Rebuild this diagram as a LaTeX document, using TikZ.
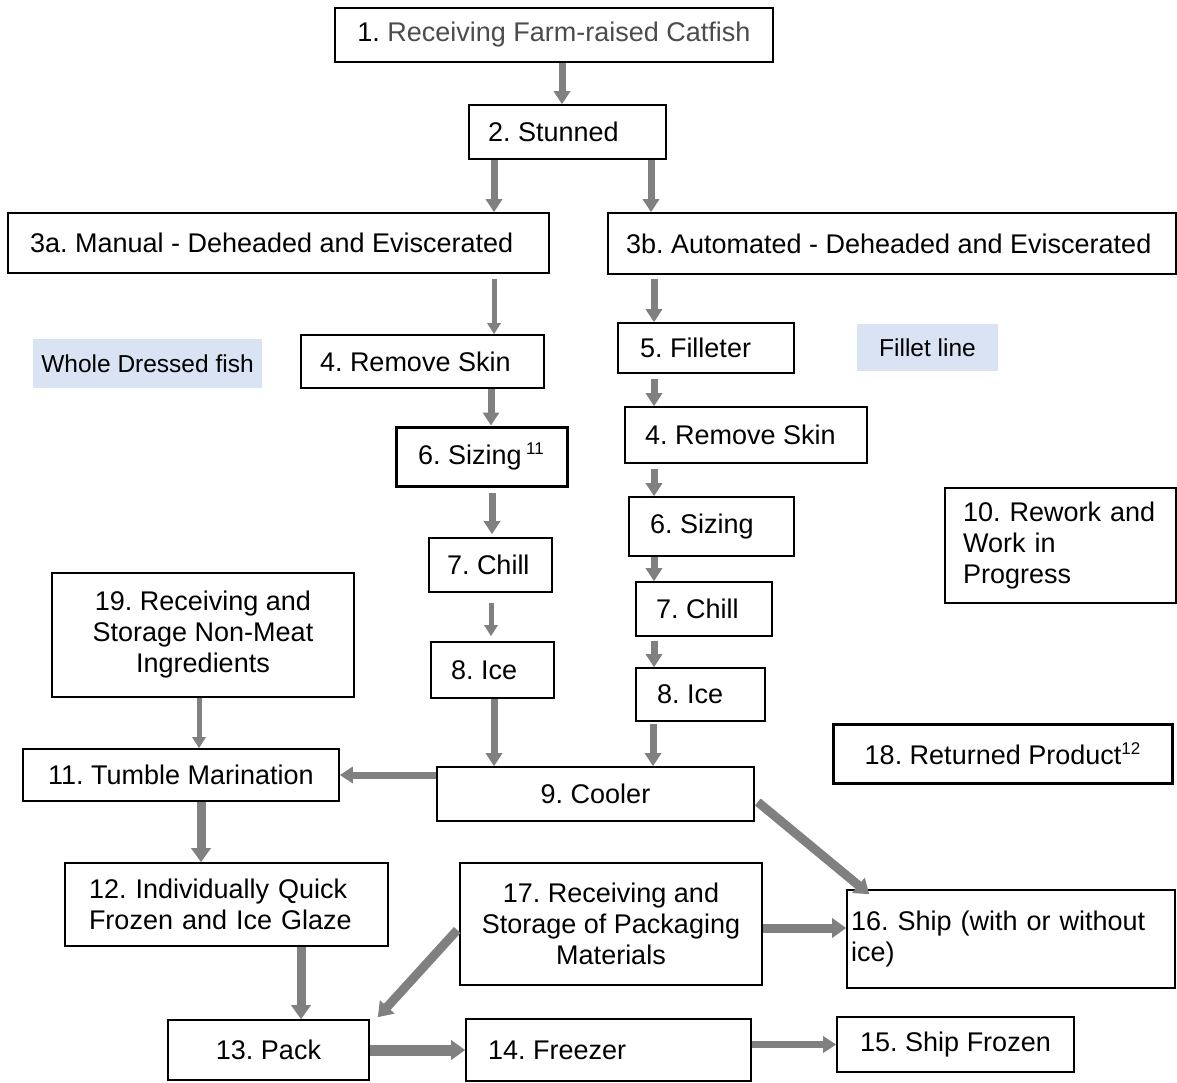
\documentclass[tikz,border=0pt]{standalone}
\usepackage{fontspec}
\setmainfont{Liberation Sans}
\usetikzlibrary{arrows.meta}
\definecolor{arrowgray}{HTML}{808080}
\definecolor{notefill}{HTML}{DAE3F3}
\newcommand{\stepfont}{\fontsize{27}{31}\selectfont}
\newcommand{\notefont}{\fontsize{24.5}{28}\selectfont}
\newcommand{\lefttext}[2]{\makebox[#1][l]{#2}}
\newcommand{\supnum}[1]{\raisebox{10pt}{\fontsize{17}{17}\selectfont #1}}
\frenchspacing
\tikzset{
  box/.style={draw, line width=1.6pt, fill=white, inner ysep=0pt, font=\stepfont},
  boldbox/.style={box, line width=3pt},
  note/.style={fill=notefill, inner sep=0pt, font=\notefont},
  flowthin/.style={draw=arrowgray, line width=5pt, -{Triangle[length=11pt,width=13pt]}},
  flow/.style={draw=arrowgray, line width=7pt, -{Triangle[length=13pt,width=16pt]}},
  flowbold/.style={draw=arrowgray, line width=9pt, -{Triangle[length=14pt,width=19pt]}}
}
\begin{document}
\begin{tikzpicture}[x=1pt,y=-1pt]
    \useasboundingbox (0,0) rectangle (1177,1082);
    % main line
    \node[box, minimum width=438pt, minimum height=54pt] (n1) at (554,35) {1. \textcolor{black!70}{Receiving Farm-raised Catfish}};
    \node[box, inner xsep=19pt, minimum height=54pt] (n2) at (567.5,132) {\lefttext{159pt}{2. Stunned}};
    \node[box, inner xsep=22pt, minimum height=60pt] (n3a) at (278.5,243) {\lefttext{497pt}{3a. Manual - Deheaded and Eviscerated}};
    \node[box, inner xsep=18pt, minimum height=61pt] (n3b) at (892,243.5) {\lefttext{532pt}{3b. Automated - Deheaded and Eviscerated}};
    % whole dressed fish
    \node[note, minimum width=229pt, minimum height=49pt] (wdf) at (147.5,363.5) {Whole Dressed fish};
    \node[box, inner xsep=19pt, minimum height=53pt] (n4l) at (422.5,361.5) {\lefttext{205pt}{4. Remove Skin}};
    \node[boldbox, inner xsep=22pt, minimum height=59pt] (n6l) at (481.5,456.5) {\lefttext{127pt}{6. Sizing\,\supnum{11}}};
    \node[box, inner xsep=18pt, minimum height=54pt] (n7l) at (490.5,565) {\lefttext{87pt}{7. Chill}};
    \node[box, inner xsep=20pt, minimum height=56pt] (n8l) at (492.5,670) {\lefttext{83pt}{8. Ice}};
    % fillet line
    \node[note, minimum width=141pt, minimum height=47pt] (fl) at (927.5,347.5) {Fillet line};
    \node[box, inner xsep=22pt, minimum height=50pt] (n5) at (706,348) {\lefttext{132pt}{5. Filleter}};
    \node[box, inner xsep=20pt, minimum height=56pt] (n4r) at (746,435) {\lefttext{202pt}{4. Remove Skin}};
    \node[box, inner xsep=21pt, minimum height=59pt] (n6r) at (711.5,526.5) {\lefttext{123pt}{6. Sizing}};
    \node[box, inner xsep=20pt, minimum height=54pt] (n7r) at (704,609) {\lefttext{96pt}{7. Chill}};
    \node[box, inner xsep=21pt, minimum height=53pt] (n8r) at (700.5,694.5) {\lefttext{87pt}{8. Ice}};
    % side steps
    \node[box, inner xsep=18pt, text width=195pt, align=left, minimum height=115pt] (n10) at (1060.5,545.5) {10. Rework and\\Work in\\Progress};
    \node[boldbox, minimum width=339pt, minimum height=59pt] (n18) at (1002.5,753.5) {18. Returned Product\supnum{12}};
    \node[box, align=center, minimum width=302pt, minimum height=124pt] (n19) at (203,635) {19. Receiving and\\Storage Non-Meat\\Ingredients};
    \node[box, minimum width=316pt, minimum height=52pt] (n11) at (181,775) {11. Tumble Marination};
    \node[box, minimum width=317pt, minimum height=54pt] (n9) at (595.5,794) {9. Cooler};
    \node[box, inner xsep=24pt, text width=275pt, align=left, minimum height=83pt] (n12) at (226.5,904.5) {12. Individually Quick\\Frozen and Ice Glaze};
    \node[box, align=center, minimum width=302pt, minimum height=122pt] (n17) at (611,924) {17. Receiving and\\Storage of Packaging\\Materials};
    \node[box, inner xsep=4pt, text width=320pt, align=left, minimum height=98pt] (n16) at (1011,939) {16. Ship (with or without\\ice)};
    \node[box, minimum width=201pt, minimum height=60pt] (n13) at (268.5,1050) {13. Pack};
    \node[box, inner xsep=22pt, minimum height=62pt] (n14) at (608.5,1050) {\lefttext{241pt}{14. Freezer}};
    \node[box, minimum width=237pt, minimum height=55pt] (n15) at (955.5,1044.5) {15. Ship Frozen};
    % arrows
    \draw[flow] (n1.south -| 562,0) -- (n2.north -| 562,0);
    \draw[flow] (n2.south -| 494,0) -- (n3a.north -| 494,0);
    \draw[flow] (n2.south -| 651,0) -- (n3b.north -| 651,0);
    \draw[flowthin, shorten <=5pt] (n3a.south -| 494,0) -- (n4l.north -| 494,0);
    \draw[flow] (n4l.south -| 491,0) -- (n6l.north -| 491,0);
    \draw[flow, shorten <=5pt, shorten >=3pt] (n6l.south -| 492,0) -- (n7l.north -| 492,0);
    \draw[flowthin, shorten <=10pt, shorten >=5pt] (n7l.south -| 491,0) -- (n8l.north -| 491,0);
    \draw[flow] (n8l.south -| 494,0) -- (n9.north -| 494,0);
    \draw[flow, shorten <=4pt] (n3b.south -| 654,0) -- (n5.north -| 654,0);
    \draw[flow, shorten <=5pt] (n5.south -| 654,0) -- (n4r.north -| 654,0);
    \draw[flow, shorten <=5pt] (n4r.south -| 654,0) -- (n6r.north -| 654,0);
    \draw[flow] (n6r.south -| 654,0) -- (n7r.north -| 654,0);
    \draw[flow, shorten <=4pt] (n7r.south -| 654,0) -- (n8r.north -| 654,0);
    \draw[flow, shorten <=2pt] (n8r.south -| 653,0) -- (n9.north -| 653,0);
    \draw[flowthin] (n19.south -| 199,0) -- (n11.north -| 199,0);
    \draw[flow] (n9.west |- n11.east) -- (n11.east);
    \draw[flowbold] (n11.south -| 201,0) -- (n12.north -| 201,0);
    \draw[flowbold] (n12.south -| 301,0) -- (n13.north -| 301,0);
    \draw[flowbold] ([xshift=-2pt,yshift=-6pt]n17.west) -- ([xshift=8pt,yshift=2pt]n13.north east);
    \draw[flowbold, line width=11pt] (n13.east) -- (n13.east -| n14.west);
    \draw[flow] (n14.east |- n15.west) -- (n15.west);
    \draw[flowbold] ([yshift=-4pt]n17.east) -- ([yshift=-4pt]n17.east -| n16.west);
    \draw[flowbold] ([xshift=3pt,yshift=-8pt]n9.east) -- ([xshift=23pt,yshift=-5pt]n16.north west);
\end{tikzpicture}
\end{document}
